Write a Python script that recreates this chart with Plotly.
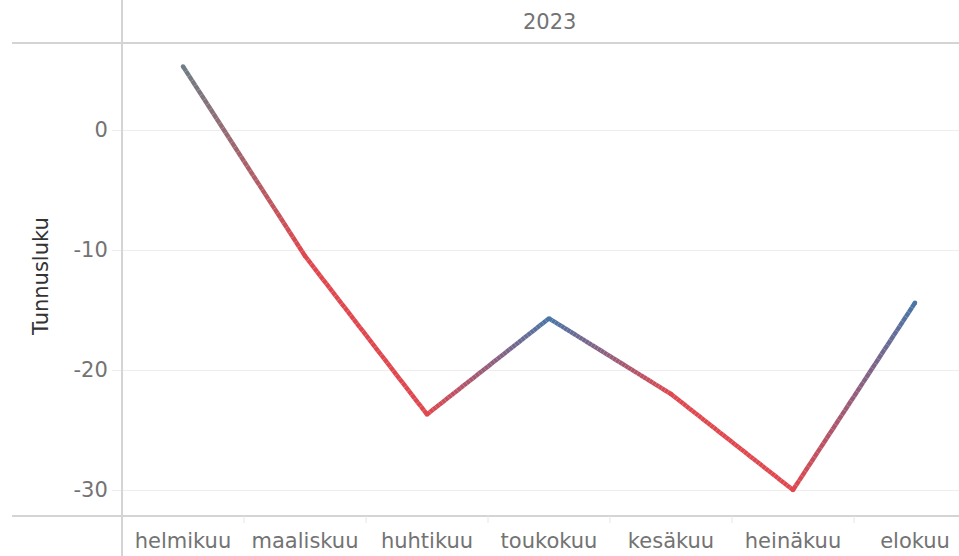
import plotly.graph_objects as go
import numpy as np

months = ["helmikuu", "maaliskuu", "huhtikuu", "toukokuu", "kesäkuu", "heinäkuu", "elokuu"]
values = [5.3, -10.5, -23.7, -15.7, -22.0, -30.0, -14.4]
point_colors = ["#6f7e87", "#e0484f", "#e0484f", "#4a76a8", "#e0484f", "#e0484f", "#4a76a8"]
year_label = "2023"
y_title = "Tunnusluku"
y_ticks = [0, -10, -20, -30]


def hex_to_rgb(h):
    h = h.lstrip("#")
    return np.array([int(h[i:i + 2], 16) for i in (0, 2, 4)], dtype=float)


fig = go.Figure()
xs = list(range(len(months)))
steps = 40
for i in range(len(months) - 1):
    c0 = hex_to_rgb(point_colors[i])
    c1 = hex_to_rgb(point_colors[i + 1])
    for k in range(steps):
        t0 = k / steps
        t1 = (k + 1) / steps
        tm = (t0 + t1) / 2
        c = c0 + (c1 - c0) * tm
        xa = xs[i] + (xs[i + 1] - xs[i]) * t0
        xb = xs[i] + (xs[i + 1] - xs[i]) * t1
        ya = values[i] + (values[i + 1] - values[i]) * t0
        yb = values[i] + (values[i + 1] - values[i]) * t1
        fig.add_trace(go.Scatter(
            x=[xa, xb], y=[ya, yb], mode="lines",
            line=dict(color="rgb(%d,%d,%d)" % tuple(c), width=4.5),
            hoverinfo="skip", showlegend=False,
        ))

fig.add_trace(go.Scatter(
    x=xs, y=values, mode="markers",
    marker=dict(color=point_colors, size=4.5),
    showlegend=False,
))

font_family = "DejaVu Sans"
axis_col = "#d4d4d4"
grid_col = "#ededed"
label_col = "#737373"
fs = 21

W, H = 959, 556
L, T, B = 122, 43, 40
plot_w = W - L
plot_h = H - T - B
cat_w = 122
x_right = -0.5 + plot_w / cat_w

fig.update_layout(
    width=W, height=H,
    margin=dict(l=L, r=0, t=T, b=B, pad=0),
    paper_bgcolor="white", plot_bgcolor="white",
    font=dict(family=font_family, size=fs, color=label_col),
    showlegend=False,
)
fig.update_xaxes(
    range=[-0.5, x_right], tickmode="array", tickvals=xs, ticktext=months,
    showgrid=False, zeroline=False, showline=False, ticks="",
    ticklabelstandoff=10,
    tickfont=dict(size=fs, color=label_col),
)
fig.update_yaxes(
    range=[-(516 - 130) / 12, (130 - 43) / 12], tickmode="array", tickvals=y_ticks,
    ticktext=[str(v) for v in y_ticks],
    showgrid=True, gridcolor=grid_col, gridwidth=1, zeroline=False, showline=False,
    ticks="outside", ticklen=9, tickcolor=grid_col,
    tickfont=dict(size=fs, color=label_col),
)

shapes = []
shapes.append(dict(type="line", xref="paper", yref="paper", x0=(12 - L) / plot_w, x1=1,
                   y0=1, y1=1, line=dict(color=axis_col, width=2)))
shapes.append(dict(type="line", xref="paper", yref="paper", x0=(12 - L) / plot_w, x1=1,
                   y0=0, y1=0, line=dict(color=axis_col, width=2)))
shapes.append(dict(type="line", xref="paper", yref="paper", x0=0, x1=0,
                   y0=(516 - 556) / plot_h, y1=(516 - 0) / plot_h, line=dict(color=axis_col, width=2)))
for i in range(len(months) - 1):
    shapes.append(dict(type="line", xref="x", yref="paper", x0=i + 0.5, x1=i + 0.5,
                       y0=-7 / plot_h, y1=0, line=dict(color="#e6e6e6", width=1)))
fig.update_layout(shapes=shapes)

fig.add_annotation(text=year_label, xref="x", yref="paper", x=3, y=(516 - 21.5) / plot_h,
                   showarrow=False, font=dict(size=fs, color=label_col),
                   xanchor="center", yanchor="middle")
fig.add_annotation(text=y_title, xref="paper", yref="paper", x=(41 - L) / plot_w, y=(516 - 277) / plot_h,
                   textangle=-90, showarrow=False, font=dict(size=fs, color="#333333"),
                   xanchor="center", yanchor="middle")

fig.write_html("out.html", config={"displayModeBar": False},
               post_script="document.body.style.margin='0';")
